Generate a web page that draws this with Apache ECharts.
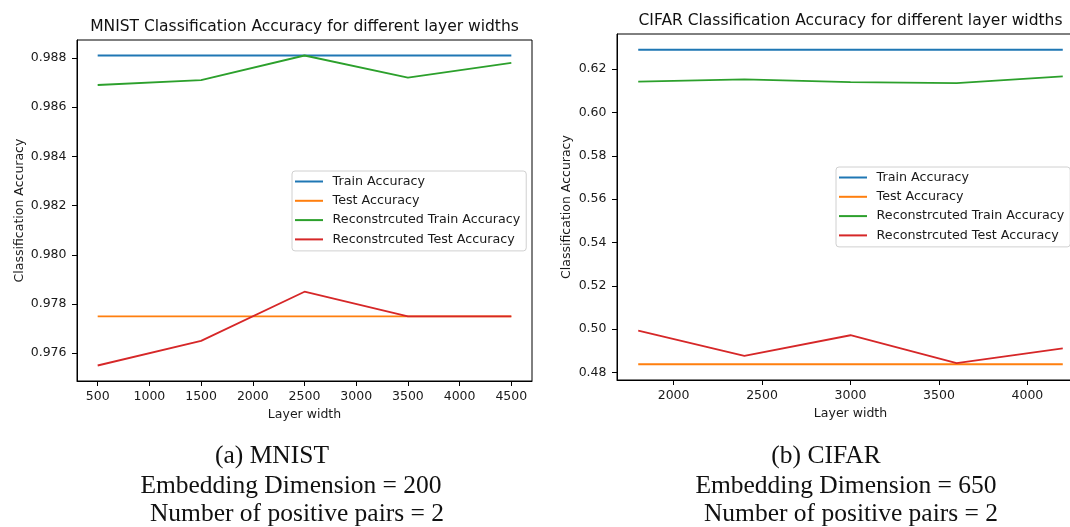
<!DOCTYPE html>
<html>
<head>
<meta charset="utf-8">
<script src="https://cdn.jsdelivr.net/npm/echarts@6/dist/echarts.min.js"></script>
<style>
html,body{margin:0;padding:0;background:#fff;}
#chart{width:1070px;height:527px;}
</style>
</head>
<body>
<div id="chart"></div>
<script>
// ---- data ----
const seriesNames = ['Train Accuracy', 'Test Accuracy', 'Reconstrcuted Train Accuracy', 'Reconstrcuted Test Accuracy'];
const mnistWidths = [500, 1500, 2500, 3500, 4500];
const mnistTrain = [0.9881, 0.9881, 0.9881, 0.9881, 0.9881];
const mnistTest = [0.9775, 0.9775, 0.9775, 0.9775, 0.9775];
const mnistReconTrain = [0.9869, 0.9871, 0.9881, 0.9872, 0.9878];
const mnistReconTest = [0.9755, 0.9765, 0.9785, 0.9775, 0.9775];
const mnistXTicks = [500, 1000, 1500, 2000, 2500, 3000, 3500, 4000, 4500];
const mnistYTicks = [0.976, 0.978, 0.980, 0.982, 0.984, 0.986, 0.988];

const cifarWidths = [1800, 2400, 3000, 3600, 4200];
const cifarTrain = [0.6290, 0.6290, 0.6290, 0.6290, 0.6290];
const cifarTest = [0.4838, 0.4838, 0.4838, 0.4838, 0.4838];
const cifarReconTrain = [0.6143, 0.6153, 0.6140, 0.6136, 0.6167];
const cifarReconTest = [0.4993, 0.4877, 0.4972, 0.4843, 0.4911];
const cifarXTicks = [2000, 2500, 3000, 3500, 4000];
const cifarYTicks = [0.48, 0.50, 0.52, 0.54, 0.56, 0.58, 0.60, 0.62];

const titles = ['MNIST Classification Accuracy for different layer widths', 'CIFAR Classification Accuracy for different layer widths'];
const captionsA = ['(a) MNIST', 'Embedding Dimension = 200', 'Number of positive pairs = 2'];
const captionsB = ['(b) CIFAR', 'Embedding Dimension = 650', 'Number of positive pairs = 2'];

const colors = ['#1f77b4', '#ff7f0e', '#2ca02c', '#d62728'];

function pad(lo, hi) { const m = (hi - lo) * 0.05; return [lo - m, hi + m]; }
function pairs(xs, ys) { return xs.map((x, i) => [x, ys[i]]); }

const mAll = [].concat(mnistTrain, mnistTest, mnistReconTrain, mnistReconTest);
const cAll = [].concat(cifarTrain, cifarTest, cifarReconTrain, cifarReconTest);
const mY = pad(Math.min(...mAll), Math.max(...mAll));
const cY = pad(Math.min(...cAll), Math.max(...cAll));
const mX = pad(Math.min(...mnistWidths), Math.max(...mnistWidths));
const cX = pad(Math.min(...cifarWidths), Math.max(...cifarWidths));

const FONT = 'DejaVu Sans';
const txt = '#1a1a1a';

function xAxisCfg(gi, range, ticks) {
  return {
    type: 'value', gridIndex: gi, min: range[0], max: range[1],
    name: 'Layer width', nameLocation: 'middle', nameGap: 26,
    nameTextStyle: { fontFamily: FONT, fontSize: 12.5, color: txt },
    axisLine: { show: true, lineStyle: { color: '#000', width: 1 } },
    axisTick: { show: true, inside: false, length: 5, customValues: ticks, lineStyle: { color: '#000' } },
    axisLabel: { customValues: ticks, margin: 9, fontFamily: FONT, fontSize: 12.5, color: txt,
      formatter: v => String(v) },
    splitLine: { show: false }
  };
}
function yAxisCfg(gi, range, ticks, dec, gap) {
  return {
    type: 'value', gridIndex: gi, min: range[0], max: range[1],
    name: 'Classification Accuracy', nameLocation: 'middle', nameGap: gap,
    nameTextStyle: { fontFamily: FONT, fontSize: 12.5, color: txt },
    axisLine: { show: true, lineStyle: { color: '#000', width: 1 } },
    axisTick: { show: true, inside: false, length: 5, customValues: ticks, lineStyle: { color: '#000' } },
    axisLabel: { customValues: ticks, margin: 10.5, fontFamily: FONT, fontSize: 12.5, color: txt,
      formatter: v => v.toFixed(dec) },
    splitLine: { show: false }
  };
}

const mnistSets = [mnistTrain, mnistTest, mnistReconTrain, mnistReconTest];
const cifarSets = [cifarTrain, cifarTest, cifarReconTrain, cifarReconTest];
const series = [];
mnistSets.forEach((ys, i) => series.push({
  name: seriesNames[i], type: 'line', xAxisIndex: 0, yAxisIndex: 0,
  data: pairs(mnistWidths, ys), symbol: 'none', color: colors[i],
  lineStyle: { width: 1.8, color: colors[i] }, animation: false
}));
cifarSets.forEach((ys, i) => series.push({
  name: seriesNames[i], type: 'line', xAxisIndex: 1, yAxisIndex: 1,
  data: pairs(cifarWidths, ys), symbol: 'none', color: colors[i],
  lineStyle: { width: 1.8, color: colors[i] }, animation: false
}));

function legendCfg(left, top) {
  return {
    data: seriesNames, orient: 'vertical', left: left, top: top,
    icon: 'rect', itemWidth: 28, itemHeight: 2, itemGap: 4.3,
    padding: [3, 6, 4, 3],
    borderColor: '#d0d0d0', borderWidth: 1, borderRadius: 3,
    backgroundColor: 'rgba(255,255,255,0.8)',
    textStyle: { fontFamily: FONT, fontSize: 12.7, color: txt, lineHeight: 15, padding: [0, 0, 0, 4.6] },
    selectedMode: false
  };
}

function textEl(t, x, y, font) {
  return {
    type: 'text', x: x, y: y,
    style: { text: t, x: 0, y: 0, align: 'center', verticalAlign: 'middle', font: font, fill: '#111' }
  };
}
const capFont = '25.5px "Liberation Serif", serif';
const titleFont = '15.5px "DejaVu Sans"';
const capY = [456, 486, 514];

const chart = echarts.init(document.getElementById('chart'), null, { renderer: 'canvas' });
chart.setOption({
  animation: false,
  backgroundColor: '#fff',
  grid: [
    { left: 77, top: 40, width: 455, height: 341, show: true, borderColor: '#000', borderWidth: 1,
      backgroundColor: 'transparent', outerBoundsMode: 'none', containLabel: false },
    { left: 617, top: 34, width: 467, height: 346, show: true, borderColor: '#000', borderWidth: 1,
      backgroundColor: 'transparent', outerBoundsMode: 'none', containLabel: false }
  ],
  xAxis: [xAxisCfg(0, mX, mnistXTicks), xAxisCfg(1, cX, cifarXTicks)],
  yAxis: [yAxisCfg(0, mY, mnistYTicks, 3, 51), yAxisCfg(1, cY, cifarYTicks, 2, 44)],
  legend: [legendCfg(292, 171), legendCfg(836, 167)],
  series: series,
  graphic: [
    textEl(titles[0], 304.5, 27, titleFont),
    textEl(titles[1], 850.5, 21, titleFont),
    textEl(captionsA[0], 272, capY[0], capFont),
    textEl(captionsA[1], 291, capY[1], capFont),
    textEl(captionsA[2], 297, capY[2], capFont),
    textEl(captionsB[0], 826, capY[0], capFont),
    textEl(captionsB[1], 846, capY[1], capFont),
    textEl(captionsB[2], 851, capY[2], capFont)
  ]
});
</script>
</body>
</html>
